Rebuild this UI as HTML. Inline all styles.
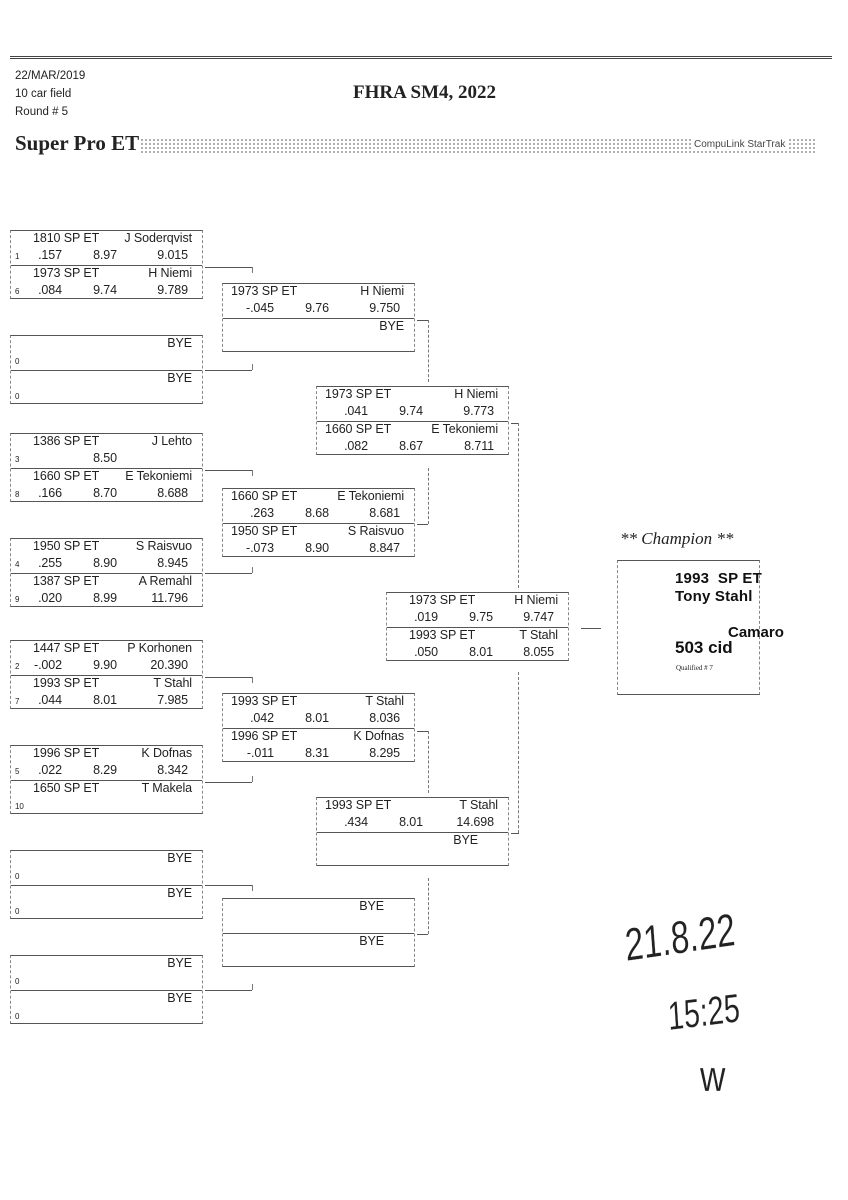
<!DOCTYPE html>
<html><head><meta charset="utf-8"><style>
body{margin:0;background:#fff;width:848px;height:1200px;position:relative;overflow:hidden;font-family:"Liberation Sans",sans-serif;color:#222}
.abs{position:absolute}
.box{position:absolute;border-top:1px solid #555;border-bottom:1px solid #555;border-left:1px dashed #888;border-right:1px dashed #888;height:69px;box-sizing:border-box}
.mid{position:absolute;left:0;right:0;top:34px;border-top:1px solid #555}
.s{position:absolute;left:0;right:0;height:35px;font-size:12.5px;letter-spacing:-0.1px}
.s span{position:absolute;white-space:nowrap}
.c{left:22px;top:0px}.n{right:10px;top:0px}.sd{left:4px;top:21px;font-size:8px}
.a{right:140px;top:17px}.b{right:85px;top:17px}.t{right:14px;top:17px}
.h{position:absolute;border-top:1px solid #555}
.v{position:absolute;border-left:1px dashed #777}
.hw{position:absolute;font-family:"Liberation Sans",sans-serif;font-weight:normal;color:#222;transform-origin:left;-webkit-text-stroke:0.2px #fff}
</style></head><body>
<div class="abs" style="left:10px;top:56px;width:822px;border-top:3px double #444;height:0"></div>
<div class="abs" style="left:15px;top:67px;font-size:11.5px;line-height:18px">22/MAR/2019<br>10 car field<br>Round # 5</div>
<div class="abs" style="left:353px;top:82px;font-family:'Liberation Serif',serif;font-weight:bold;font-size:19px">FHRA SM4, 2022</div>
<div class="abs" style="left:15px;top:131px;font-family:'Liberation Serif',serif;font-weight:bold;font-size:21px">Super Pro ET</div>
<div class="abs" style="left:140px;top:138px;width:677px;height:16px;background-image:radial-gradient(circle,#999 0.8px,transparent 1.1px);background-size:4px 4px"></div>
<div class="abs" style="left:692px;top:139px;font-size:10px;background:#fff;color:#444;padding:0 2px">CompuLink StarTrak</div>

<!-- Round 1 -->
<div class="box" style="left:10px;top:230px;width:193px"><div class="mid"></div>
<div class="s" style="top:0"><span class="c">1810 SP ET</span><span class="n">J Soderqvist</span><span class="sd">1</span><span class="a">.157</span><span class="b">8.97</span><span class="t">9.015</span></div>
<div class="s" style="top:35px"><span class="c">1973 SP ET</span><span class="n">H Niemi</span><span class="sd">6</span><span class="a">.084</span><span class="b">9.74</span><span class="t">9.789</span></div></div>
<div class="box" style="left:10px;top:335px;width:193px"><div class="mid"></div>
<div class="s" style="top:0"><span class="n">BYE</span><span class="sd">0</span></div>
<div class="s" style="top:35px"><span class="n">BYE</span><span class="sd">0</span></div></div>
<div class="box" style="left:10px;top:433px;width:193px"><div class="mid"></div>
<div class="s" style="top:0"><span class="c">1386 SP ET</span><span class="n">J Lehto</span><span class="sd">3</span><span class="b">8.50</span></div>
<div class="s" style="top:35px"><span class="c">1660 SP ET</span><span class="n">E Tekoniemi</span><span class="sd">8</span><span class="a">.166</span><span class="b">8.70</span><span class="t">8.688</span></div></div>
<div class="box" style="left:10px;top:538px;width:193px"><div class="mid"></div>
<div class="s" style="top:0"><span class="c">1950 SP ET</span><span class="n">S Raisvuo</span><span class="sd">4</span><span class="a">.255</span><span class="b">8.90</span><span class="t">8.945</span></div>
<div class="s" style="top:35px"><span class="c">1387 SP ET</span><span class="n">A Remahl</span><span class="sd">9</span><span class="a">.020</span><span class="b">8.99</span><span class="t">11.796</span></div></div>
<div class="box" style="left:10px;top:640px;width:193px"><div class="mid"></div>
<div class="s" style="top:0"><span class="c">1447 SP ET</span><span class="n">P Korhonen</span><span class="sd">2</span><span class="a">-.002</span><span class="b">9.90</span><span class="t">20.390</span></div>
<div class="s" style="top:35px"><span class="c">1993 SP ET</span><span class="n">T Stahl</span><span class="sd">7</span><span class="a">.044</span><span class="b">8.01</span><span class="t">7.985</span></div></div>
<div class="box" style="left:10px;top:745px;width:193px"><div class="mid"></div>
<div class="s" style="top:0"><span class="c">1996 SP ET</span><span class="n">K Dofnas</span><span class="sd">5</span><span class="a">.022</span><span class="b">8.29</span><span class="t">8.342</span></div>
<div class="s" style="top:35px"><span class="c">1650 SP ET</span><span class="n">T Makela</span><span class="sd">10</span></div></div>
<div class="box" style="left:10px;top:850px;width:193px"><div class="mid"></div>
<div class="s" style="top:0"><span class="n">BYE</span><span class="sd">0</span></div>
<div class="s" style="top:35px"><span class="n">BYE</span><span class="sd">0</span></div></div>
<div class="box" style="left:10px;top:955px;width:193px"><div class="mid"></div>
<div class="s" style="top:0"><span class="n">BYE</span><span class="sd">0</span></div>
<div class="s" style="top:35px"><span class="n">BYE</span><span class="sd">0</span></div></div>

<!-- Round 2 -->
<div class="box" style="left:222px;top:283px;width:193px"><div class="mid"></div>
<div class="s" style="top:0"><span class="c" style="left:8px">1973 SP ET</span><span class="n">H Niemi</span><span class="a">-.045</span><span class="b">9.76</span><span class="t">9.750</span></div>
<div class="s" style="top:35px"><span class="n">BYE</span></div></div>
<div class="box" style="left:222px;top:488px;width:193px"><div class="mid"></div>
<div class="s" style="top:0"><span class="c" style="left:8px">1660 SP ET</span><span class="n">E Tekoniemi</span><span class="a">.263</span><span class="b">8.68</span><span class="t">8.681</span></div>
<div class="s" style="top:35px"><span class="c" style="left:8px">1950 SP ET</span><span class="n">S Raisvuo</span><span class="a">-.073</span><span class="b">8.90</span><span class="t">8.847</span></div></div>
<div class="box" style="left:222px;top:693px;width:193px"><div class="mid"></div>
<div class="s" style="top:0"><span class="c" style="left:8px">1993 SP ET</span><span class="n">T Stahl</span><span class="a">.042</span><span class="b">8.01</span><span class="t">8.036</span></div>
<div class="s" style="top:35px"><span class="c" style="left:8px">1996 SP ET</span><span class="n">K Dofnas</span><span class="a">-.011</span><span class="b">8.31</span><span class="t">8.295</span></div></div>
<div class="box" style="left:222px;top:898px;width:193px"><div class="mid"></div>
<div class="s" style="top:0"><span class="n" style="right:30px">BYE</span></div>
<div class="s" style="top:35px"><span class="n" style="right:30px">BYE</span></div></div>

<!-- Round 3 -->
<div class="box" style="left:316px;top:386px;width:193px"><div class="mid"></div>
<div class="s" style="top:0"><span class="c" style="left:8px">1973 SP ET</span><span class="n">H Niemi</span><span class="a">.041</span><span class="b">9.74</span><span class="t">9.773</span></div>
<div class="s" style="top:35px"><span class="c" style="left:8px">1660 SP ET</span><span class="n">E Tekoniemi</span><span class="a">.082</span><span class="b">8.67</span><span class="t">8.711</span></div></div>
<div class="box" style="left:316px;top:797px;width:193px"><div class="mid"></div>
<div class="s" style="top:0"><span class="c" style="left:8px">1993 SP ET</span><span class="n">T Stahl</span><span class="a">.434</span><span class="b">8.01</span><span class="t">14.698</span></div>
<div class="s" style="top:35px"><span class="n" style="right:30px">BYE</span></div></div>

<!-- Round 4 -->
<div class="box" style="left:386px;top:592px;width:183px"><div class="mid"></div>
<div class="s" style="top:0"><span class="c">1973 SP ET</span><span class="n">H Niemi</span><span class="a" style="right:130px">.019</span><span class="b" style="right:75px">9.75</span><span class="t">9.747</span></div>
<div class="s" style="top:35px"><span class="c">1993 SP ET</span><span class="n">T Stahl</span><span class="a" style="right:130px">.050</span><span class="b" style="right:75px">8.01</span><span class="t">8.055</span></div></div>

<!-- connectors R1->R2 -->
<div class="h" style="left:205px;top:267px;width:47px"></div><div class="v" style="left:252px;top:267px;height:6px"></div>
<div class="h" style="left:205px;top:370px;width:47px"></div><div class="v" style="left:252px;top:364px;height:6px"></div>
<div class="h" style="left:205px;top:470px;width:47px"></div><div class="v" style="left:252px;top:470px;height:6px"></div>
<div class="h" style="left:205px;top:573px;width:47px"></div><div class="v" style="left:252px;top:567px;height:6px"></div>
<div class="h" style="left:205px;top:677px;width:47px"></div><div class="v" style="left:252px;top:677px;height:6px"></div>
<div class="h" style="left:205px;top:782px;width:47px"></div><div class="v" style="left:252px;top:776px;height:6px"></div>
<div class="h" style="left:205px;top:885px;width:47px"></div><div class="v" style="left:252px;top:885px;height:6px"></div>
<div class="h" style="left:205px;top:990px;width:47px"></div><div class="v" style="left:252px;top:984px;height:6px"></div>
<!-- R2->R3 -->
<div class="h" style="left:417px;top:320px;width:11px"></div><div class="v" style="left:428px;top:320px;height:62px"></div>
<div class="h" style="left:417px;top:524px;width:11px"></div><div class="v" style="left:428px;top:468px;height:56px"></div>
<div class="h" style="left:417px;top:731px;width:11px"></div><div class="v" style="left:428px;top:731px;height:62px"></div>
<div class="h" style="left:417px;top:934px;width:11px"></div><div class="v" style="left:428px;top:878px;height:56px"></div>
<!-- R3->R4 -->
<div class="h" style="left:511px;top:423px;width:8px"></div><div class="v" style="left:518px;top:423px;height:165px"></div>
<div class="h" style="left:511px;top:833px;width:8px"></div><div class="v" style="left:518px;top:672px;height:161px"></div>
<!-- R4->champ -->
<div class="h" style="left:581px;top:628px;width:20px"></div>

<!-- Champion -->
<div class="abs" style="left:620px;top:529px;font-family:'Liberation Serif',serif;font-style:italic;font-size:17px">** Champion **</div>
<div class="abs" style="left:617px;top:560px;width:143px;height:135px;box-sizing:border-box;border-top:1px solid #555;border-bottom:1px solid #555;border-left:1px dashed #888;border-right:1px dashed #888"></div>
<div class="abs" style="left:675px;top:570px;font-size:15px;line-height:18px;font-weight:bold;color:#111;letter-spacing:0.2px">1993&nbsp; SP ET<br>Tony Stahl</div>
<div class="abs" style="left:728px;top:624px;font-size:15px;font-weight:bold;color:#111">Camaro</div>
<div class="abs" style="left:675px;top:638px;font-size:17px;font-weight:bold;color:#111">503 cid</div>
<div class="abs" style="left:676px;top:664px;font-size:7px;font-family:'Liberation Serif',serif">Qualified # 7</div>

<!-- handwriting -->
<div class="hw" style="left:625px;top:918px;font-size:46px;transform:scaleX(0.72) rotate(-6deg)">21.8.22</div>
<div class="hw" style="left:668px;top:995px;font-size:40px;transform:scaleX(0.72) rotate(-5deg)">15:25</div>
<div class="hw" style="left:700px;top:1052px;font-size:44px;transform:scaleX(0.8)">w</div>
</body></html>
